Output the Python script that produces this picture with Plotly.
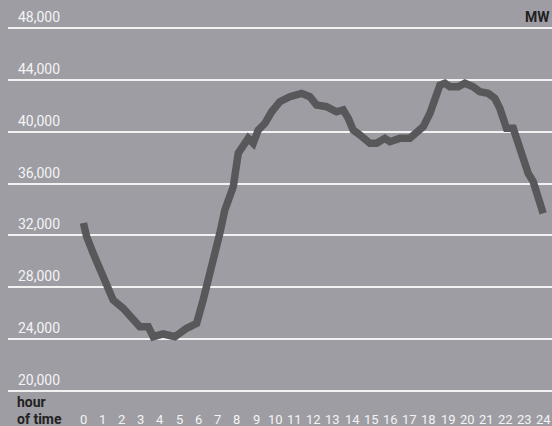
import plotly.graph_objects as go

# Data (hour of day, load in MW)
hours = [0.0, 0.17, 0.51, 0.86, 1.21, 1.55, 2.07, 2.42, 2.94, 3.38, 3.64, 4.16, 4.77,
         5.38, 5.90, 6.24, 6.42, 6.76, 7.11, 7.37, 7.81, 8.07, 8.42, 8.59, 8.85, 9.11,
         9.46, 9.81, 10.24, 10.76, 11.37, 11.80, 12.15, 12.67, 13.19, 13.54, 13.80,
         14.06, 14.41, 14.93, 15.28, 15.71, 15.97, 16.49, 17.01, 17.36, 17.71, 18.06,
         18.32, 18.58, 18.84, 19.10, 19.53, 19.88, 20.31, 20.66, 21.09, 21.44, 21.70,
         22.05, 22.40, 22.66, 22.92, 23.18, 23.44, 23.70, 23.96]
load_mw = [32960, 31900, 30620, 29470, 28050, 27020, 26380, 25730, 24960, 24960, 24190,
           24400, 24190, 24840, 25220, 27020, 28050, 29590, 32170, 33960, 35760, 38340,
           38980, 39490, 39110, 40130, 40650, 41540, 42320, 42700, 42960, 42700, 42060,
           41930, 41540, 41680, 41040, 40130, 39750, 39110, 39110, 39490, 39230, 39490,
           39490, 39880, 40390, 41420, 42450, 43600, 43740, 43470, 43470, 43740, 43470,
           43090, 42960, 42580, 41810, 40260, 40260, 39110, 37820, 36790, 36150, 34730,
           33710]

y_ticks = [20000, 24000, 28000, 32000, 36000, 40000, 44000, 48000]
y_labels = ["20,000", "24,000", "28,000", "32,000", "36,000", "40,000", "44,000", "48,000"]
x_ticks = list(range(0, 25))
x_labels = [str(h) for h in x_ticks]

BG = "#9e9da4"
FONT = "Roboto"

fig = go.Figure()
fig.add_trace(go.Scatter(
    x=hours, y=load_mw, mode="lines",
    line=dict(color="#58585a", width=7.5),
    hoverinfo="skip", showlegend=False,
))

Y_MIN, Y_MAX = 17302, 50160
fig.update_layout(
    width=552, height=426,
    margin=dict(l=8, r=0, t=0, b=0),
    paper_bgcolor=BG, plot_bgcolor=BG,
    showlegend=False,
    xaxis=dict(range=[-3.93, 24.42], showgrid=False, zeroline=False,
               showticklabels=False, fixedrange=True),
    yaxis=dict(range=[Y_MIN, Y_MAX], tickvals=y_ticks, showticklabels=False,
               showgrid=True, gridcolor="#f2f2f2", gridwidth=2, zeroline=False,
               fixedrange=True),
)

annotations = []
for v, lab in zip(y_ticks, y_labels):
    annotations.append(dict(
        x=0, xref="paper", xshift=8, y=v, yref="y", yshift=11,
        text=lab, showarrow=False, xanchor="left", yanchor="middle",
        font=dict(family=FONT, size=14, color="#f4f4f4"),
    ))
for h, lab in zip(x_ticks, x_labels):
    annotations.append(dict(
        x=h, xref="x", y=0, yref="paper", yshift=7,
        text=lab, showarrow=False, xanchor="center", yanchor="middle",
        font=dict(family=FONT, size=13, color="#f4f4f4"),
    ))
annotations.append(dict(
    x=1, xref="paper", y=1, yref="paper", yshift=-17,
    text="<b>MW</b>", showarrow=False, xanchor="right", yanchor="middle",
    font=dict(family=FONT, size=14, color="#222222"),
))
annotations.append(dict(
    x=0, xref="paper", xshift=7, y=0, yref="paper", yshift=24,
    text="<b>hour</b>", showarrow=False, xanchor="left", yanchor="middle",
    font=dict(family=FONT, size=14, color="#222222"),
))
annotations.append(dict(
    x=0, xref="paper", xshift=7, y=0, yref="paper", yshift=7,
    text="<b>of time</b>", showarrow=False, xanchor="left", yanchor="middle",
    font=dict(family=FONT, size=14, color="#222222"),
))
fig.update_layout(annotations=annotations)

fig.write_html(
    "out.html",
    config={"displayModeBar": False},
    post_script="document.body.style.margin='0';document.body.style.overflow='hidden';",
)
